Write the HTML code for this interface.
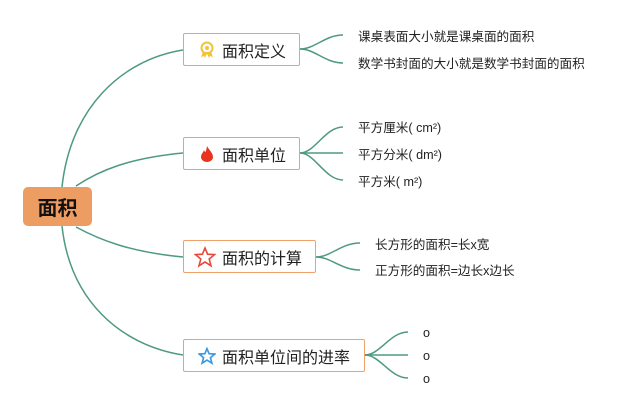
<!DOCTYPE html>
<html><head><meta charset="utf-8"><style>
body{margin:0;width:640px;height:413px;background:#fff;position:relative;overflow:hidden;font-family:"Liberation Sans","Noto Sans CJK SC",sans-serif}
.n{position:absolute;box-sizing:border-box;border:1.5px solid #f0a06a;border-radius:2px;background:#fff;font-size:16px;color:#222;display:flex;align-items:center;padding-left:38px;height:33px}
.t{position:absolute;font-size:12.6px;color:#222;white-space:nowrap;line-height:14px}
.ic{position:absolute;left:14px;top:7px}
</style></head><body>
<svg width="640" height="413" style="position:absolute;left:0;top:0" fill="none" stroke="#4e9a80" stroke-width="1.5">
<path d="M62 187 C70 110 120 60 183 50"/>
<path d="M76 186 C100 170 130 158 183 153"/>
<path d="M76 227 C100 240 130 252 183 257"/>
<path d="M62 226 C70 300 120 345 183 355"/>
<path d="M300 49 C315 49 325 35 343 35"/><path d="M300 49 C315 49 325 63 343 63"/>
<path d="M300 153 C315 153 325 127 343 127"/><path d="M300 153 L343 153"/><path d="M300 153 C315 153 325 180 343 180"/>
<path d="M316 257 C331 257 341 243 360 243"/><path d="M316 257 C331 257 341 270 360 270"/>
<path d="M365 355 C380 355 390 332 408 332"/><path d="M365 355 L408 355"/><path d="M365 355 C380 355 390 378 408 378"/>
</svg>
<div style="position:absolute;left:23px;top:187px;width:69px;height:39px;background:#ee9d62;border-radius:5px;font-size:20px;font-weight:bold;color:#111;display:flex;align-items:center;justify-content:center">面积</div>
<div class="n" style="left:183px;top:33px;width:117px">
<svg class="ic" width="18" height="18" viewBox="0 0 18 18"><circle cx="9" cy="7" r="5.5" fill="none" stroke="#f2c23a" stroke-width="2"/><circle cx="9" cy="7" r="2" fill="#f2c23a"/><path d="M5 11 L3 16 L6 15 L7 17 L9 12 L11 17 L12 15 L15 16 L13 11" fill="#f2c23a"/></svg>面积定义</div>
<div class="n" style="left:183px;top:137px;width:117px">
<svg class="ic" width="18" height="18" viewBox="0 0 18 18"><path d="M9 1 C11 5 15 8 15 12 C15 15 12 17 9 17 C6 17 3 15 3 12 C3 9 5 8 6 5 C7 8 8 8 9 1Z" fill="#e8341c"/></svg>面积单位</div>
<div class="n" style="left:183px;top:240px;width:133px">
<svg class="ic" style="left:10px;top:5px" width="22" height="22" viewBox="0 0 22 22"><path d="M11 2 L13.6 8.2 L20.5 8.6 L15.2 13 L17 19.8 L11 16 L5 19.8 L6.8 13 L1.5 8.6 L8.4 8.2Z" fill="none" stroke="#e8483a" stroke-width="1.6"/></svg>面积的计算</div>
<div class="n" style="left:183px;top:339px;width:182px">
<svg class="ic" width="18" height="18" viewBox="0 0 22 22"><path d="M11 2 L13.6 8.2 L20.5 8.6 L15.2 13 L17 19.8 L11 16 L5 19.8 L6.8 13 L1.5 8.6 L8.4 8.2Z" fill="none" stroke="#3a98e0" stroke-width="2"/></svg>面积单位间的进率</div>
<div class="t" style="left:358px;top:30px">课桌表面大小就是课桌面的面积</div>
<div class="t" style="left:358px;top:57px">数学书封面的大小就是数学书封面的面积</div>
<div class="t" style="left:358px;top:121px">平方厘米( cm²)</div>
<div class="t" style="left:358px;top:148px">平方分米( dm²)</div>
<div class="t" style="left:358px;top:175px">平方米( m²)</div>
<div class="t" style="left:375px;top:238px">长方形的面积=长x宽</div>
<div class="t" style="left:375px;top:264px">正方形的面积=边长x边长</div>
<div class="t" style="left:423px;top:326px">o</div>
<div class="t" style="left:423px;top:349px">o</div>
<div class="t" style="left:423px;top:372px">o</div>
</body></html>
